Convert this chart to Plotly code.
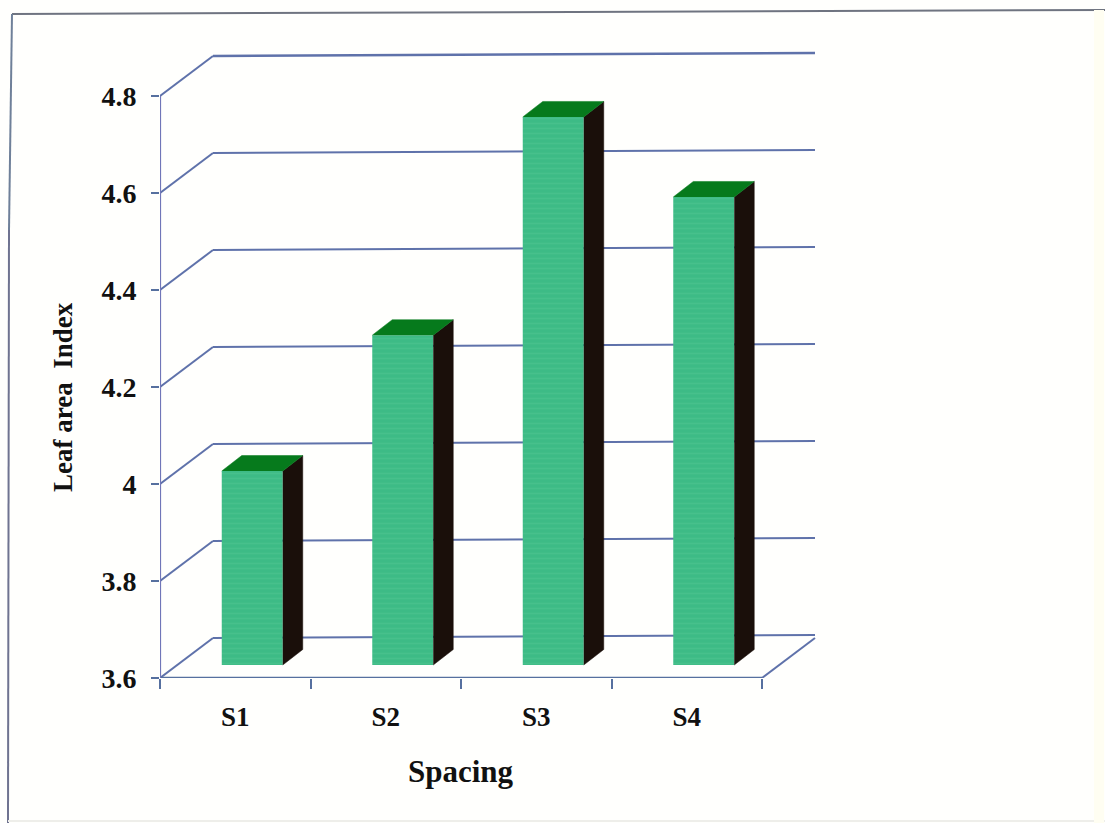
import plotly.graph_objects as go

categories = ["S1", "S2", "S3", "S4"]
leaf_area_index = [4.0, 4.28, 4.73, 4.565]
y_ticks = [3.6, 3.8, 4.0, 4.2, 4.4, 4.6, 4.8]
y_tick_labels = ["3.6", "3.8", "4", "4.2", "4.4", "4.6", "4.8"]

WIDTH, HEIGHT = 1105, 823
LEFT, RIGHT, TOP, BOTTOM = 160, 825, 46, 678
PX_PER_X = 150.5
PX_PER_Y = 485.0

# Oblique projection: depth is a shift to the right and upwards
WALL_DX, WALL_DY = 53 / PX_PER_X, 40 / PX_PER_Y
WALL_END = 655 / PX_PER_X
WALL_TILT = 3 / PX_PER_Y
BAR_DX, BAR_DY = 17 / PX_PER_X, 13 / PX_PER_Y
DEPTH_DX, DEPTH_DY = 20 / PX_PER_X, 15.5 / PX_PER_Y
BAR_WIDTH = 61 / PX_PER_X

Y_MIN = y_ticks[0]
N = len(categories)
x_range = [0, (RIGHT - LEFT) / PX_PER_X]
y_range = [Y_MIN, Y_MIN + (BOTTOM - TOP) / PX_PER_Y]

GRID = "#5f72aa"
AXIS = "#56709f"
Y_AXIS = "#7076b8"
FRONT = "#3dbb86"
STRIPE = "#52c592"
TOP_FACE = "#067a1c"
SIDE_FACE = "#1a0f0a"
FONT = "Liberation Serif"
INK = "#111111"

fig = go.Figure()


def axis_line(xs, ys, color, width):
    fig.add_trace(go.Scatter(x=xs, y=ys, mode="lines", showlegend=False, cliponaxis=False,
                             hoverinfo="skip", line=dict(color=color, width=width)))


def face(xs, ys, color):
    fig.add_trace(go.Scatter(x=xs, y=ys, mode="lines", fill="toself", fillcolor=color,
                             showlegend=False, hoverinfo="skip",
                             line=dict(color=color, width=0.5)))


def wall_segment(x0, y0, x1, y1, width=2):
    fig.add_shape(type="line", xref="x", yref="y", x0=x0, y0=y0, x1=x1, y1=y1,
                  layer="below", line=dict(color=GRID, width=width))


# Wall gridlines with their slanted run back from the value axis
for t in y_ticks:
    wall_segment(0, t, WALL_DX, t + WALL_DY)
    wall_segment(WALL_DX, t + WALL_DY, WALL_END, t + WALL_DY + WALL_TILT,
                 2.6 if t == y_ticks[-1] else 2)

# Floor edge on the right
wall_segment(N, Y_MIN, N + WALL_DX, Y_MIN + WALL_DY)

# Bars: striped front face plus top and side faces set back in depth
centers = [i + 0.5 + BAR_DX for i in range(N)]
base = Y_MIN + BAR_DY
for c, v in zip(centers, leaf_area_index):
    right = c + BAR_WIDTH / 2
    left = c - BAR_WIDTH / 2
    face([right, right + DEPTH_DX, right + DEPTH_DX, right],
         [base, base + DEPTH_DY, v + BAR_DY + DEPTH_DY, v + BAR_DY], SIDE_FACE)
    face([left, left + DEPTH_DX, right + DEPTH_DX, right],
         [v + BAR_DY, v + BAR_DY + DEPTH_DY, v + BAR_DY + DEPTH_DY, v + BAR_DY], TOP_FACE)

fig.add_trace(go.Bar(
    x=centers,
    y=[v - Y_MIN for v in leaf_area_index],
    base=base,
    width=BAR_WIDTH,
    showlegend=False,
    hoverinfo="skip",
    marker=dict(color=FRONT, line=dict(width=0),
                pattern=dict(shape="-", bgcolor=FRONT, fgcolor=STRIPE, size=5, solidity=0.3)),
))

# The two axes, drawn over the plot edge
axis_line([0, N], [Y_MIN, Y_MIN], AXIS, 2.4)
axis_line([0, 0], [Y_MIN, y_ticks[-1]], Y_AXIS, 2.2)


def paper_x(px):
    return (px - LEFT) / (RIGHT - LEFT)


def paper_y(px):
    return (BOTTOM - px) / (BOTTOM - TOP)


fig.update_layout(
    width=WIDTH,
    height=HEIGHT,
    autosize=False,
    margin=dict(l=LEFT, r=WIDTH - RIGHT, t=TOP, b=HEIGHT - BOTTOM, pad=0),
    paper_bgcolor="#fffffd",
    plot_bgcolor="rgba(0,0,0,0)",
    showlegend=False,
    font=dict(family=FONT, color=INK),
    xaxis=dict(
        range=x_range, showgrid=False, zeroline=False, showline=False,
        tickmode="array", tickvals=[i + 0.5 for i in range(N)], ticktext=categories,
        ticks="", ticklabelstandoff=20,
        tickfont=dict(family=FONT, size=27, color=INK, weight="bold"),
        minor=dict(ticks="outside", ticklen=10, tickwidth=2, tickcolor=AXIS,
                   tick0=0, dtick=1, showgrid=False),
    ),
    yaxis=dict(
        range=y_range, showgrid=False, zeroline=False, showline=False,
        tickmode="array", tickvals=y_ticks, ticktext=y_tick_labels,
        ticks="outside", ticklen=8, tickwidth=2, tickcolor=AXIS,
        ticklabelstandoff=9,
        tickfont=dict(family=FONT, size=28, color=INK, weight="bold"),
    ),
    annotations=[
        dict(text="<b>Leaf area  Index</b>", xref="paper", yref="paper",
             x=paper_x(63), y=paper_y(397), xanchor="center", yanchor="middle",
             textangle=-90, showarrow=False, font=dict(family=FONT, size=27, color=INK)),
        dict(text="<b>Spacing</b>", xref="paper", yref="paper",
             x=paper_x(461), y=paper_y(772), xanchor="center", yanchor="middle",
             showarrow=False, font=dict(family=FONT, size=31, color=INK)),
    ],
)

# Outer border of the chart area
for (x0, y0, x1, y1, color, w) in [
    (12, 14, 1105, 10, "#6f7480", 2),
    (12, 14, 9, 230, "#6f8099", 2),
    (9, 230, 8, 823, "#6f7390", 2),
    (8, 821, 1105, 821, "#eeeeea", 2),
    (1099, 10, 1099, 823, "#fffef2", 10),
]:
    fig.add_shape(type="line", xref="paper", yref="paper",
                  x0=paper_x(x0), y0=paper_y(y0), x1=paper_x(x1), y1=paper_y(y1),
                  line=dict(color=color, width=w), layer="below")

fig.write_html("out.html")
